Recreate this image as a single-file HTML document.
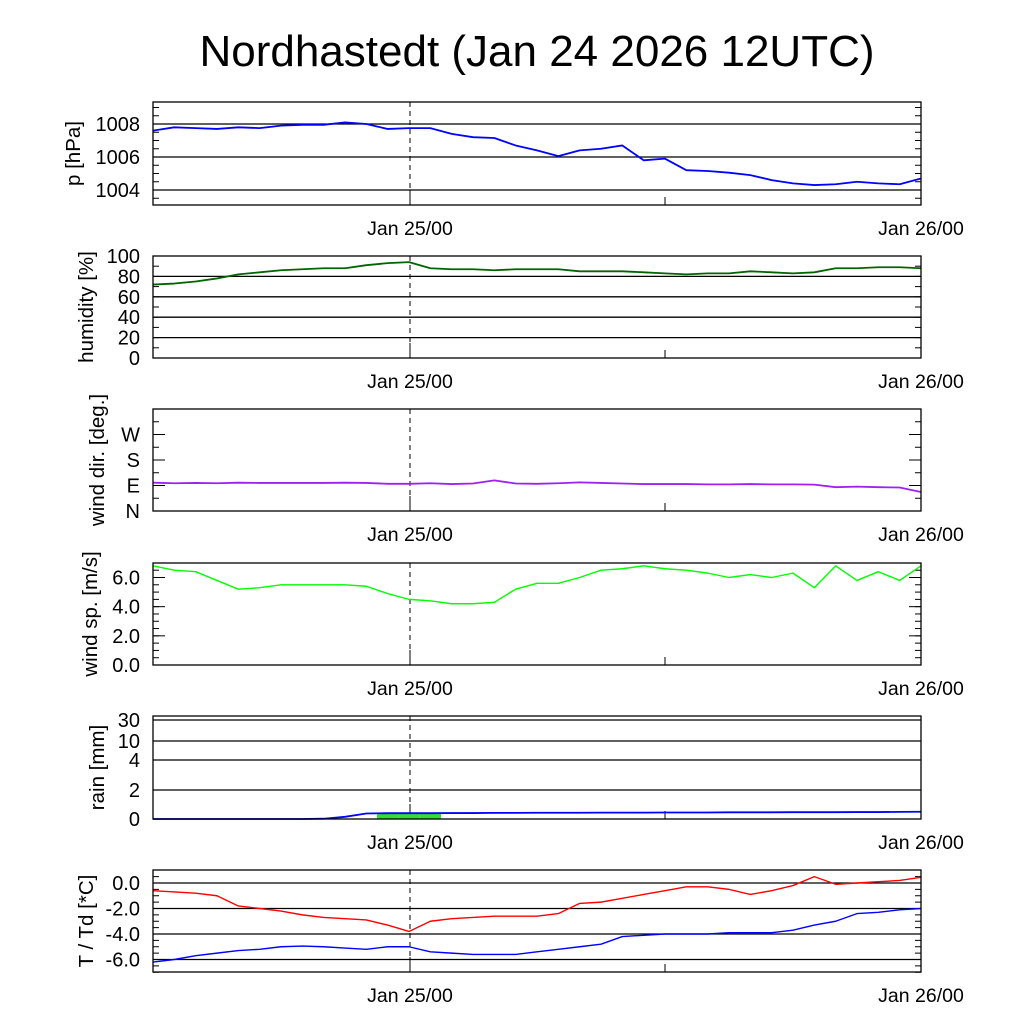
<!DOCTYPE html>
<html><head><meta charset="utf-8"><style>
body{margin:0;background:#fff;}
svg{display:block;font-family:"Liberation Sans",sans-serif;}
</style></head><body>
<svg id="c" width="1024" height="1024" viewBox="0 0 1024 1024">
<text x="537" y="66" font-size="44" text-anchor="middle">Nordhastedt (Jan 24 2026 12UTC)</text>
</svg>
<script>
const hours = Array.from({length:37},(_,i)=>12+i);
const pressure = [1007.6,1007.8,1007.75,1007.7,1007.8,1007.75,1007.9,1007.95,1007.95,1008.1,1008,1007.7,1007.75,1007.75,1007.4,1007.2,1007.15,1006.7,1006.4,1006.05,1006.4,1006.5,1006.7,1005.8,1005.9,1005.2,1005.15,1005.05,1004.9,1004.6,1004.4,1004.3,1004.35,1004.5,1004.4,1004.35,1004.7];
const humidity = [72,73,75,78,82,84,86,87,88,88,91,93,94,88,87,87,86,87,87,87,85,85,85,84,83,82,83,83,85,84,83,84,88,88,89,89,88];
const windDir = [100,98,99,98,100,99,99,99,99,100,99,96,96,98,95,97,108,97,96,98,101,99,97,95,95,95,94,94,95,94,94,93,84,86,84,83,67];
const windSpeed = [6.8,6.5,6.4,5.8,5.2,5.3,5.5,5.5,5.5,5.5,5.4,4.9,4.5,4.4,4.2,4.2,4.3,5.2,5.6,5.6,6.0,6.5,6.6,6.8,6.6,6.5,6.3,6.0,6.2,6.0,6.3,5.3,6.8,5.8,6.4,5.8,6.8];
const rainCum = [0,0,0,0,0,0,0,0,0.02,0.15,0.38,0.4,0.4,0.4,0.41,0.41,0.42,0.42,0.43,0.43,0.43,0.44,0.44,0.44,0.45,0.45,0.45,0.46,0.46,0.46,0.47,0.47,0.47,0.48,0.48,0.49,0.5];
const rainHourly = [0,0,0,0,0,0,0,0,0,0,0,0.35,0.35,0.35,0,0,0,0,0,0,0,0,0,0,0,0,0,0,0,0,0,0,0,0,0,0,0];
const temp = [-0.6,-0.7,-0.8,-1.0,-1.8,-2.0,-2.2,-2.5,-2.7,-2.8,-2.9,-3.3,-3.8,-3.0,-2.8,-2.7,-2.6,-2.6,-2.6,-2.4,-1.6,-1.5,-1.2,-0.9,-0.6,-0.3,-0.3,-0.5,-0.9,-0.6,-0.2,0.5,-0.1,0.0,0.1,0.2,0.45];
const dew = [-6.2,-6.0,-5.7,-5.5,-5.3,-5.2,-5.0,-4.95,-5.0,-5.1,-5.2,-5.0,-5.0,-5.4,-5.5,-5.6,-5.6,-5.6,-5.4,-5.2,-5.0,-4.8,-4.2,-4.1,-4.0,-4.0,-4.0,-3.9,-3.9,-3.9,-3.7,-3.3,-3.0,-2.4,-2.3,-2.1,-2.0];
const rainTicks = [0,2,4,10,30];
const dirTickLabels = ['N','E','S','W'];

const svg=document.getElementById('c');
const NS='http://www.w3.org/2000/svg';
const X0=153,X1=921;
function xs(h){return X0+(h-12)/36*(X1-X0);}
function mk(tag,a,parent){const e=document.createElementNS(NS,tag);for(const k in a)e.setAttribute(k,a[k]);(parent||svg).appendChild(e);return e;}

function panel(o){
  const g=mk('g',{});
  
  
  const ys=o.ys;
  (o.grid||[]).forEach(v=>{const l=mk('line',{x1:X0,x2:X1,y1:ys(v),y2:ys(v),stroke:'#000','stroke-width':1.3},g);
    
    });
  (o.minor||[]).forEach(v=>{const y=ys(v);mk('line',{x1:X0,x2:X0+6,y1:y,y2:y,stroke:'#000'},g);mk('line',{x1:X1-6,x2:X1,y1:y,y2:y,stroke:'#000'},g);});
  (o.major||[]).forEach(v=>{const y=ys(v);mk('line',{x1:X0,x2:X0+12,y1:y,y2:y,stroke:'#000'},g);mk('line',{x1:X1-12,x2:X1,y1:y,y2:y,stroke:'#000'},g);});
  o.labels.forEach((t,i)=>{const tx=mk('text',{x:X0-13,y:ys(o.labelVals[i])+7,'font-size':20,'text-anchor':'end'},g);tx.textContent=t;
    
    });
  mk('line',{x1:410,x2:410,y1:o.top,y2:o.bot-15,stroke:'#000','stroke-dasharray':'5,4'},g);
  mk('line',{x1:410,x2:410,y1:o.bot-15,y2:o.bot,stroke:'#000'},g);
  mk('line',{x1:xs(36),x2:xs(36),y1:o.bot-8,y2:o.bot,stroke:'#000'},g);
  if(o.draw)o.draw(g);
  mk('rect',{x:X0,y:o.top,width:X1-X0,height:o.bot-o.top,fill:'none',stroke:'#000','stroke-width':1.3},g);
  const yl=mk('text',{x:0,y:0,'font-size':20.5,'text-anchor':'middle',transform:`translate(${o.lx},${(o.top+o.bot)/2}) rotate(-90)`},g);
  yl.textContent=o.ylabel;
  
  
  [['Jan 25/00',410],['Jan 26/00',921]].forEach(([t,x])=>{const tx=mk('text',{x:x,y:o.bot+30,'font-size':19.5,'text-anchor':'middle'},g);tx.textContent=t;
    
    });
}
function line(g,arr,ys,color,name,w){
  const p=mk('polyline',{points:arr.map((v,i)=>xs(hours[i])+','+ys(v)).join(' '),fill:'none',stroke:color,'stroke-width':w||1.8,'stroke-linejoin':'round'},g);
  
  
}
function lin(v0,y0,v1,y1){return v=>y0+(v-v0)*(y1-y0)/(v1-v0);}
function range(a,b,s){const r=[];for(let v=a;v<=b+1e-9;v+=s)r.push(+v.toFixed(3));return r;}

let ysP=lin(1008,124,1004,190);
panel({name:'pressure',top:102,bot:205,ys:ysP,grid:[1004,1006,1008],minor:range(1003.5,1009,0.5),major:[],labels:['1004','1006','1008'],labelVals:[1004,1006,1008],ylabel:'p [hPa]',lx:80,
 draw:g=>line(g,pressure,ysP,'#0000ff','pressure-line')});
let ysH=lin(0,358,100,256);
panel({name:'humidity',top:256,bot:358,ys:ysH,grid:[20,40,60,80],minor:range(10,90,10),major:[],labels:['0','20','40','60','80','100'],labelVals:[0,20,40,60,80,100],ylabel:'humidity [%]',lx:93,
 draw:g=>line(g,humidity,ysH,'#006400','humidity-line')});
let ysD=lin(0,511,360,409);
panel({name:'wind-direction',top:409,bot:511,ys:ysD,grid:[],minor:[45,135,225,315],major:[90,180,270],labels:dirTickLabels,labelVals:[0,90,180,270],ylabel:'wind dir. [deg.]',lx:104,
 draw:g=>line(g,windDir,ysD,'#a020f0','wind-direction-line')});
let ysW=lin(0,665,6,577.5);
panel({name:'wind-speed',top:563,bot:665,ys:ysW,grid:[],minor:range(0.5,6.5,0.5),major:[2,4,6],labels:['0.0','2.0','4.0','6.0'],labelVals:[0,2,4,6],ylabel:'wind sp. [m/s]',lx:97,
 draw:g=>line(g,windSpeed,ysW,'#00ff00','wind-speed-line',1.4)});
const rainY=[819,790,760,741,720];
function ysR(v){for(let i=0;i<rainTicks.length-1;i++){if(v<=rainTicks[i+1])return rainY[i]+(v-rainTicks[i])*(rainY[i+1]-rainY[i])/(rainTicks[i+1]-rainTicks[i]);}return 716;}
panel({name:'rain',top:716,bot:819,ys:ysR,grid:[2,4,10,30],minor:[],major:[],labels:rainTicks.map(String),labelVals:rainTicks,ylabel:'rain [mm]',lx:104,
 draw:g=>{
   rainHourly.forEach((v,i)=>{if(v>0){const x=xs(hours[i]),w=xs(hours[i]+1)-x;const r=mk('rect',{x:x-w/2,y:ysR(v),width:w,height:819-ysR(v),fill:'#33dd33'},g);
     
     }});
   line(g,rainCum,ysR,'#0000ff','rain-cumulative-line');
 }});
let ysT=lin(0,883,-6,959.5);
panel({name:'temperature',top:870,bot:972,ys:ysT,grid:[0,-2,-4,-6],minor:range(-7,0.5,0.5),major:[],labels:['0.0','-2.0','-4.0','-6.0'],labelVals:[0,-2,-4,-6],ylabel:'T / Td [*C]',lx:93,
 draw:g=>{line(g,temp,ysT,'#ff0000','temperature-line',1.4);line(g,dew,ysT,'#0000ff','dewpoint-line',1.4);}});
</script>
</body></html>
